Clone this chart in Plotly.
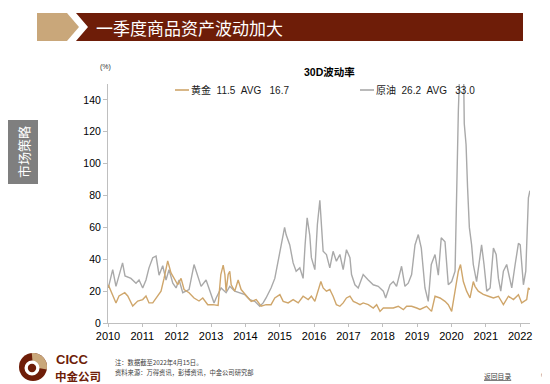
import math
import plotly.graph_objects as go

# ---------------- data ----------------
gold_dates = [
    "2010-01-04", "2010-02-20", "2010-03-27", "2010-04-28", "2010-06-28", "2010-07-30",
    "2010-09-21", "2010-11-13", "2011-01-05", "2011-02-09", "2011-03-13", "2011-04-22",
    "2011-05-27", "2011-07-19", "2011-08-20", "2011-09-28", "2011-11-02", "2011-12-04",
    "2012-01-13", "2012-02-17", "2012-03-20", "2012-05-12", "2012-07-04", "2012-08-26",
    "2012-10-05", "2012-11-27", "2013-01-20", "2013-03-17", "2013-04-15", "2013-05-10",
    "2013-05-28", "2013-06-10", "2013-07-02", "2013-07-19", "2013-08-03", "2013-09-10",
    "2013-10-16", "2013-11-17", "2013-12-27", "2014-01-31", "2014-03-04", "2014-04-26",
    "2014-06-18", "2014-08-09", "2014-10-01", "2014-11-10", "2015-01-03", "2015-02-07",
    "2015-04-01", "2015-05-24", "2015-07-17", "2015-09-07", "2015-10-31", "2015-12-04",
    "2016-01-10", "2016-02-14", "2016-03-14", "2016-04-07", "2016-05-12", "2016-06-17",
    "2016-07-22", "2016-08-26", "2016-10-02", "2016-11-06", "2016-12-11", "2017-01-17",
    "2017-02-22", "2017-03-29", "2017-05-04", "2017-06-07", "2017-07-31", "2017-09-22",
    "2017-10-28", "2017-12-03", "2018-01-07", "2018-03-02", "2018-04-23", "2018-06-15",
    "2018-08-08", "2018-09-12", "2018-11-04", "2018-12-28", "2019-02-01", "2019-04-12",
    "2019-06-04", "2019-07-11", "2019-09-02", "2019-10-25", "2019-11-29", "2020-01-04",
    "2020-02-09", "2020-03-15", "2020-04-07", "2020-05-07", "2020-06-11", "2020-07-17",
    "2020-08-21", "2020-09-08", "2020-10-13", "2020-12-05", "2021-01-29", "2021-03-23",
    "2021-05-15", "2021-07-07", "2021-08-30", "2021-10-22", "2021-12-14", "2022-01-18",
    "2022-03-12", "2022-03-30", "2022-04-15",
]
gold_vol = [
    24, 17, 12.6, 17, 19, 17,
    10.7, 13.8, 14.7, 17, 12.6, 12.6,
    15.7, 20, 28, 39, 31.4, 28,
    24, 28, 21, 19, 15.7, 13.8,
    15.7, 11.5, 11.5, 11, 30.4, 36.3,
    30.4, 20, 30.4, 32.5, 24, 20,
    27, 21, 17.8, 15.7, 13.6, 14.7,
    10.5, 11.5, 11.5, 15.7, 17.8, 13.6,
    12.6, 14.7, 12.6, 16.8, 14.7, 16.8,
    13.6, 21, 26, 22, 20, 21,
    16.8, 11.5, 10.5, 12.6, 15.7, 16.8,
    13.6, 12.6, 11.5, 12.6, 11.5, 9.4,
    11.5, 7.3, 9.4, 9.4, 9.4, 10.5,
    8.4, 10.5, 10.5, 9.4, 8.5, 10.5,
    7.3, 16.8, 15.7, 13.6, 11.5, 7.3,
    20, 32.5, 36.7, 26, 20, 15.7,
    26, 23, 20, 18, 16.8, 15.7,
    16.8, 11.5, 16.8, 14.7, 17.8, 12.6,
    14.7, 22, 21,
]

oil_dates = [
    "2010-01-04", "2010-02-20", "2010-03-27", "2010-06-05", "2010-07-01", "2010-09-02",
    "2010-10-26", "2010-11-27", "2011-01-05", "2011-02-09", "2011-03-13", "2011-04-22",
    "2011-05-27", "2011-06-28", "2011-08-06", "2011-09-10", "2011-10-12", "2011-11-21",
    "2011-12-26", "2012-01-27", "2012-03-06", "2012-04-10", "2012-05-12", "2012-07-04",
    "2012-08-12", "2012-09-17", "2012-11-09", "2012-12-11", "2013-02-02", "2013-02-24",
    "2013-04-18", "2013-06-10", "2013-07-19", "2013-09-10", "2013-11-03", "2013-12-27",
    "2014-02-17", "2014-04-11", "2014-06-03", "2014-07-09", "2014-08-09", "2014-10-01",
    "2014-11-10", "2014-12-15", "2015-01-19", "2015-02-22", "2015-03-10", "2015-04-18",
    "2015-05-24", "2015-06-25", "2015-08-03", "2015-09-07", "2015-09-28", "2015-10-20",
    "2015-11-17", "2015-12-04", "2016-01-10", "2016-02-06", "2016-03-03", "2016-03-20",
    "2016-04-07", "2016-05-12", "2016-06-17", "2016-07-22", "2016-08-26", "2016-10-02",
    "2016-11-06", "2016-12-11", "2017-01-17", "2017-02-03", "2017-03-11", "2017-04-15",
    "2017-06-07", "2017-07-31", "2017-09-22", "2017-11-14", "2018-01-07", "2018-02-01",
    "2018-03-19", "2018-04-23", "2018-05-28", "2018-07-20", "2018-08-25", "2018-09-29",
    "2018-11-04", "2018-12-10", "2019-01-14", "2019-02-15", "2019-03-26", "2019-04-30",
    "2019-06-01", "2019-07-11", "2019-08-15", "2019-09-15", "2019-10-25", "2019-11-29",
    "2020-01-04", "2020-02-09", "2020-02-26", "2020-03-15", "2020-04-02", "2020-05-07",
    "2020-05-17", "2020-06-05", "2020-06-21", "2020-07-10", "2020-08-03", "2020-08-21",
    "2020-09-25", "2020-10-31", "2020-11-17", "2020-12-13", "2021-01-11", "2021-02-16",
    "2021-03-23", "2021-04-21", "2021-05-15", "2021-06-09", "2021-07-07", "2021-08-11",
    "2021-09-09", "2021-10-04", "2021-11-09", "2021-12-14", "2022-01-02", "2022-02-05",
    "2022-03-02", "2022-03-30", "2022-04-15",
]
oil_vol = [
    22, 33.5, 23, 37.7, 29.5, 28,
    25, 27, 22, 27, 34.6, 41,
    42, 30, 36, 27, 33.5, 25,
    22, 27, 19, 20, 21, 36.7,
    29.5, 23, 27, 21, 12.6, 15.7,
    22, 19, 23, 20, 19, 17.8,
    14.7, 13.6, 10.5, 12.6, 15.7, 22,
    28, 38.8, 49, 60, 55.5, 49,
    37.7, 32.5, 34.6, 28, 49, 66,
    55, 41, 33.5, 62, 77, 60,
    45, 43, 34.6, 45, 38.8, 43,
    33.5, 46, 41, 30.4, 24, 22,
    30.4, 27, 24, 23, 20, 15.7,
    24, 26, 23, 35.6, 23, 25,
    30.4, 49, 55.5, 47, 22, 13.6,
    36.7, 43, 30, 53.5, 51, 24,
    26, 32.5, 90, 133, 165, 170,
    125, 112, 85, 60, 49, 36.7,
    26, 43, 49, 36.7, 20, 22,
    47, 43, 28, 20, 32.5, 36.7,
    28, 22, 36.7, 50, 49, 24,
    32.5, 78.6, 83,
]

gold_label = "黄金  11.5  AVG   16.7"
oil_label = "原油  26.2  AVG   33.0"
chart_title = "30D波动率"
page_title = "一季度商品资产波动加大"
side_label = "市场策略"
y_ticks = [0, 20, 40, 60, 80, 100, 120, 140]

GOLD = "#CFA66B"
OIL = "#A9A9A9"
DARK_RED = "#6E1D08"
TAN = "#C9A77A"

W, H = 550, 384
L, R, T, B = 100, 28, 76, 69
PW, PH = W - L - R, H - T - B


def px(x):
    return (x - L) / PW


def py(y):
    return (H - B - y) / PH


def path(points):
    return "M " + " L ".join(f"{px(a):.5f},{py(b):.5f}" for a, b in points) + " Z"


fig = go.Figure()
fig.add_trace(go.Scatter(x=oil_dates, y=oil_vol, mode="lines", name="原油",
                         line=dict(color=OIL, width=1.4), showlegend=False))
fig.add_trace(go.Scatter(x=gold_dates, y=gold_vol, mode="lines", name="黄金",
                         line=dict(color=GOLD, width=1.4), showlegend=False))

shapes = []
# title bar
shapes.append(dict(type="path", xref="paper", yref="paper", layer="above",
                   path=path([(29, 5), (59, 5), (71, 19), (59, 33), (29, 33)]),
                   fillcolor=TAN, line=dict(width=0)))
shapes.append(dict(type="path", xref="paper", yref="paper", layer="above",
                   path=path([(68, 5), (515, 5), (515, 33), (68, 33), (80, 19)]),
                   fillcolor=DARK_RED, line=dict(width=0)))
# side bar
shapes.append(dict(type="rect", xref="paper", yref="paper", layer="above",
                   x0=px(0), x1=px(30), y0=py(176), y1=py(112),
                   fillcolor="#7F7F7F", line=dict(width=0)))
# logo
cx, cy, r = 25, 359, 14
shapes.append(dict(type="circle", xref="paper", yref="paper", layer="above",
                   x0=px(cx - r), x1=px(cx + r), y0=py(cy + r), y1=py(cy - r),
                   fillcolor=DARK_RED, line=dict(width=0)))
wedge = [(cx, cy)] + [(cx + r * math.cos(math.radians(a)), cy - r * math.sin(math.radians(a)))
                      for a in range(-10, 96, 5)]
shapes.append(dict(type="path", xref="paper", yref="paper", layer="above",
                   path=path(wedge), fillcolor=TAN, line=dict(width=0)))
ic, icy = 24, 360
for rr, col in [(7.5, "white"), (4.2, DARK_RED)]:
    shapes.append(dict(type="circle", xref="paper", yref="paper", layer="above",
                       x0=px(ic - rr), x1=px(ic + rr), y0=py(icy + rr), y1=py(icy - rr),
                       fillcolor=col, line=dict(width=0)))
# legend line samples
for x0, col in [(167, GOLD), (352, OIL)]:
    shapes.append(dict(type="line", xref="paper", yref="paper", layer="above",
                       x0=px(x0), x1=px(x0 + 14), y0=py(82), y1=py(82),
                       line=dict(color=col, width=1.6)))

CJK = "Noto Sans CJK SC, Liberation Sans, sans-serif"
LAT = "Liberation Sans, Noto Sans CJK SC, sans-serif"


def ann(text, x, y, size, color="#000000", xanchor="left", yanchor="middle", family=LAT, angle=0):
    return dict(text=text, x=px(x), y=py(y), xref="paper", yref="paper", showarrow=False,
                xanchor=xanchor, yanchor=yanchor, textangle=angle, borderpad=0,
                font=dict(size=size, color=color, family=family))


annotations = [
    ann(page_title, 87, 19, 17, "white", family=CJK),
    ann(side_label, 15, 144, 13, "white", xanchor="center", family=CJK, angle=-90),
    ann("<b>" + chart_title + "</b>", 321, 64, 10.5, "#000000", xanchor="center"),
    ann(gold_label, 182, 82, 10, "#1a1a1a"),
    ann(oil_label, 367, 82, 10, "#1a1a1a"),
    ann("(%)", 97, 59, 7, "#333333", xanchor="center"),
    ann("<b>CICC</b>", 47, 351.5, 13, DARK_RED),
    ann("<b>中金公司</b>", 46, 368, 11.5, DARK_RED, family=CJK),
    ann("注：数据截至2022年4月15日。", 106, 354, 6.3, "#404040", family=CJK),
    ann("资料来源：万得资讯，彭博资讯，中金公司研究部", 106, 364, 6.3, "#404040", family=CJK),
    ann("<u>返回目录</u>", 475, 368, 6.8, "#404040", family=CJK),
    ann("61", 532, 367, 5.5, "#7f7f7f"),
]

fig.update_layout(
    width=W, height=H,
    margin=dict(l=L, r=R, t=T, b=B, pad=0),
    paper_bgcolor="white", plot_bgcolor="white",
    shapes=shapes, annotations=annotations,
    showlegend=False,
    xaxis=dict(type="date", range=["2010-01-01", "2022-04-16"],
               dtick="M12", tick0="2010-01-01", tickformat="%Y",
               showgrid=False, zeroline=False, showline=True, linecolor="#BFBFBF", linewidth=1,
               ticks="outside", ticklen=3, tickcolor="#BFBFBF",
               tickfont=dict(size=11, color="#000000", family=LAT)),
    yaxis=dict(range=[0, 150], tickvals=y_ticks,
               showgrid=False, zeroline=False, showline=True, linecolor="#BFBFBF", linewidth=1,
               ticks="outside", ticklen=4, tickcolor="#BFBFBF",
               tickfont=dict(size=10.5, color="#000000", family=LAT)),
)

fig.write_html("out.html")
